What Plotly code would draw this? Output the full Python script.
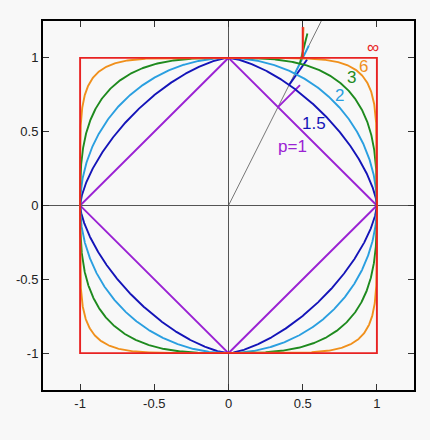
import numpy as np
import plotly.graph_objects as go

# --> Data
p_values = [1, 1.5, 2, 3, 6, np.inf]
p_labels = ["p=1", "1.5", "2", "3", "6", "\u221e"]
label_x = [0.43, 0.575, 0.745, 0.83, 0.91, 0.975]
label_y = [0.40, 0.555, 0.745, 0.87, 0.94, 1.07]
ray_dir = [1, 2]
tick_vals = [-1, -0.5, 0, 0.5, 1]
tick_text = ["-1", "-0.5", "0", "0.5", "1"]

# --> Styles
colors = ["#9b22d4", "#1414b8", "#2a9fe0", "#1e8a1e", "#f0901c", "#e82222"]
font = "Liberation Sans, Arial, sans-serif"
bg = "#f8f8f8"


def pnorm(x, y, p):
    if np.isinf(p):
        return np.maximum(np.abs(x), np.abs(y))
    return (np.abs(x) ** p + np.abs(y) ** p) ** (1.0 / p)


t = np.linspace(0, 2 * np.pi, 1441)
cx, cy = np.cos(t), np.sin(t)

fig = go.Figure()

# --> Ray from origin
fig.add_trace(go.Scatter(x=[0, 1.25 * ray_dir[0] / ray_dir[1]], y=[0, 1.25], mode="lines",
                         line=dict(color="#555555", width=0.8), hoverinfo="skip"))

for p, lab, col, lx, ly in zip(p_values, p_labels, colors, label_x, label_y):
    r = pnorm(cx, cy, p)
    fig.add_trace(go.Scatter(x=cx / r, y=cy / r, mode="lines",
                             line=dict(color=col, width=1.9), hoverinfo="skip"))

    # --> Normal segment where the ray meets the curve
    n = pnorm(ray_dir[0], ray_dir[1], p)
    px_, py_ = ray_dir[0] / n, ray_dir[1] / n
    if np.isinf(p):
        gx, gy = 0.0, 1.0
    else:
        gx, gy = px_ ** (p - 1), py_ ** (p - 1)
    g = np.hypot(gx, gy)
    fig.add_trace(go.Scatter(x=[px_, px_ + 0.21 * gx / g], y=[py_, py_ + 0.21 * gy / g], mode="lines",
                             line=dict(color=col, width=1.9), hoverinfo="skip"))

    fig.add_annotation(x=lx, y=ly, text=lab, showarrow=False,
                       font=dict(family=font, size=17, color=col))

axis = dict(range=[-1.25, 1.25], tickvals=tick_vals, ticktext=tick_text,
            ticks="inside", ticklen=6, tickwidth=1, tickcolor="#333333",
            showline=True, linecolor="black", linewidth=2, mirror="ticks",
            showgrid=False, zeroline=True, zerolinecolor="#555555", zerolinewidth=1,
            tickfont=dict(family=font, size=13, color="#222222"))

fig.update_layout(width=430, height=440, showlegend=False,
                  margin=dict(l=43, r=16, t=21, b=50),
                  paper_bgcolor=bg, plot_bgcolor=bg,
                  xaxis=axis, yaxis=axis)

# --> Drop the page margin so the figure sits flush with the window
fig.write_html("out.html", config={"displayModeBar": False},
               post_script="document.body.style.margin='0';document.body.style.background='%s';" % bg)
